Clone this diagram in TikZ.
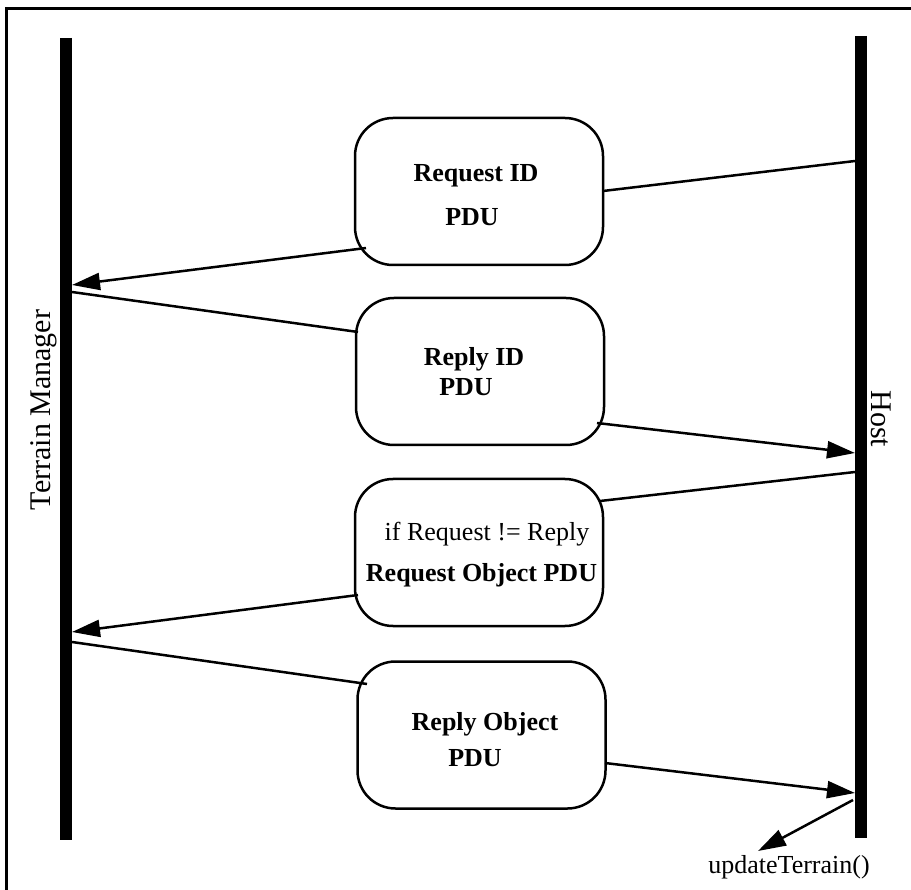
\documentclass[tikz,border=0pt]{standalone}
\usepackage{fontspec}
\setmainfont{Liberation Serif}
\usetikzlibrary{arrows.meta}
\tikzset{
  lifeline/.style={line width=12pt},
  pdubox/.style={draw, line width=2.5pt, rounded corners=38pt, minimum width=248pt, minimum height=147pt, inner sep=0pt},
  boldtxt/.style={font=\fontsize{26}{30}\selectfont\bfseries, text height=17pt, text depth=0pt, inner sep=0pt},
  plaintxt/.style={font=\fontsize{26}{30}\selectfont, text height=17pt, text depth=0pt, inner sep=0pt},
  actor/.style={font=\fontsize{30}{34}\selectfont, inner sep=0pt},
  msg/.style={line width=2.5pt},
  msgarrow/.style={line width=2.5pt, -{Triangle[length=28pt,width=17pt]}},
  frame/.style={line width=3pt}
}
\begin{document}
\begin{tikzpicture}[x=1pt,y=-1pt]
\useasboundingbox (0,0) rectangle (911,890);
% frame
\coordinate (fa) at (6,890);
\coordinate (fb) at (6,9);
\coordinate (fc) at (911,9);
\draw[frame] (fa) -- (fb) -- (fc);
% lifelines
\coordinate (lt) at (66,38);
\coordinate (lb) at (66,840);
\coordinate (rt) at (861,36);
\coordinate (rb) at (861,838);
\draw[lifeline] (lt) -- (lb);
\draw[lifeline] (rt) -- (rb);
\node[actor, rotate=90] (tm) at (44,410) {Terrain Manager};
\node[actor, rotate=-90] (host) at (881,419) {Host};
% boxes
\node[pdubox] (b1) at (479,191.5) {};
\node[pdubox] (b2) at (480,371.5) {};
\node[pdubox] (b3) at (479,552.5) {};
\node[pdubox] (b4) at (481.5,735) {};
% texts
\node[boldtxt] (t1a) at (476,173) {Request ID};
\node[boldtxt] (t1b) at (472,217) {PDU};
\node[boldtxt] (t2a) at (474,357) {Reply ID};
\node[boldtxt] (t2b) at (466,387) {PDU};
\node[plaintxt] (t3a) at (487,532) {if Request != Reply};
\node[boldtxt] (t3b) at (481.5,573) {Request Object PDU};
\node[boldtxt] (t4a) at (485,722) {Reply Object};
\node[boldtxt] (t4b) at (475,758) {PDU};
% connector points
\coordinate (r1) at (855,161);
\coordinate (b1r) at (603,191);
\coordinate (b1l) at (366,248);
\coordinate (l1) at (72,285);
\coordinate (l2) at (72,292);
\coordinate (b2l) at (358,332);
\coordinate (b2r) at (597,423);
\coordinate (r2) at (855,453);
\coordinate (r3) at (855,472);
\coordinate (b3r) at (600,501);
\coordinate (b3l) at (358,595);
\coordinate (l3) at (72,632);
\coordinate (l4) at (72,642);
\coordinate (b4l) at (367,684);
\coordinate (b4r) at (605,763);
\coordinate (r4) at (855,793);
\coordinate (r5) at (853,800);
\coordinate (u) at (758,851);
\draw[msg] (r1) -- (b1r);
\draw[msgarrow] (b1l) -- (l1);
\draw[msg] (l2) -- (b2l);
\draw[msgarrow] (b2r) -- (r2);
\draw[msg] (r3) -- (b3r);
\draw[msgarrow] (b3l) -- (l3);
\draw[msg] (l4) -- (b4l);
\draw[msgarrow] (b4r) -- (r4);
\draw[msgarrow] (r5) -- (u);
\node[font=\fontsize{26}{30}\selectfont, inner sep=0pt] (upd) at (789,867) {updateTerrain()};
\end{tikzpicture}
\end{document}
